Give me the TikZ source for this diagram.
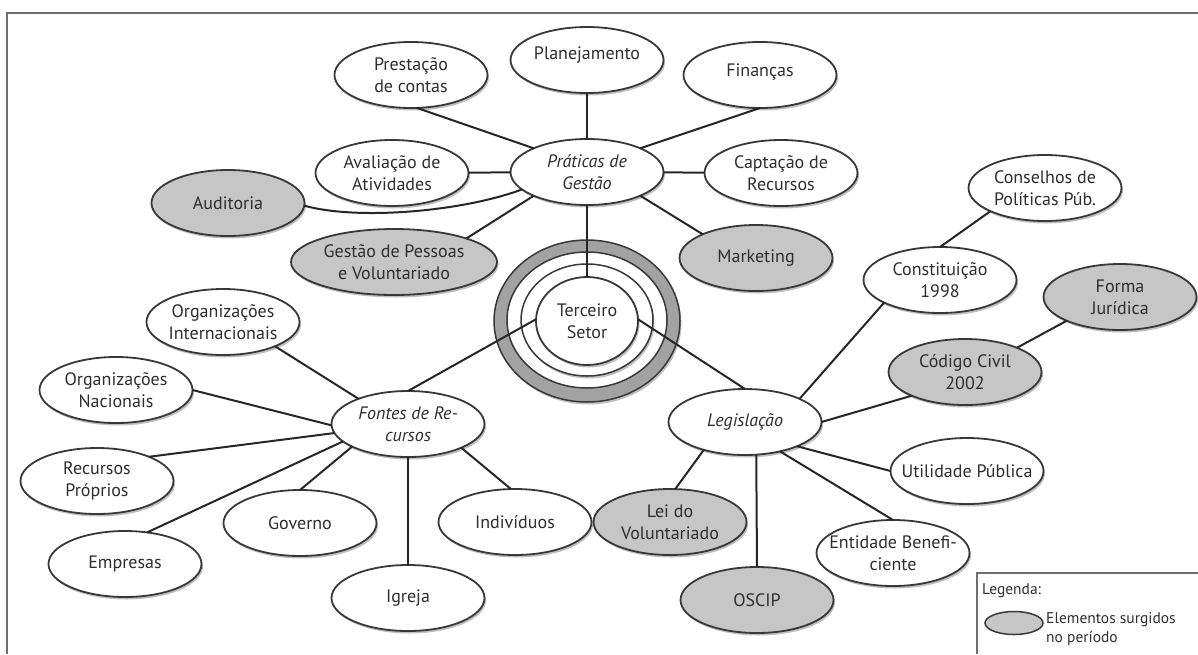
\documentclass[tikz,border=0pt]{standalone}
\usepackage{fontspec}
\setmainfont{PT Sans}
\usetikzlibrary{shapes.geometric,shadows}
\definecolor{edgecol}{HTML}{383838}
\definecolor{grayfill}{HTML}{C6C6C6}
\definecolor{ringgray}{HTML}{A2A2A2}
\definecolor{framecol}{HTML}{6E6E6E}
\definecolor{txtcol}{HTML}{2E2E2E}
\tikzset{
  softshadow/.style={drop shadow={shadow xshift=1.5pt, shadow yshift=-2.5pt, fill=black!45, opacity=0.55}},
  bub/.style={ellipse, draw=edgecol, line width=1.8pt, fill=white,
    minimum width=153pt, minimum height=66pt, inner sep=0pt, outer sep=0pt, softshadow},
  newbub/.style={bub, fill=grayfill},
  lbl/.style={align=center, font=\fontsize{18}{22}\selectfont, text=txtcol, inner sep=0pt},
  conn/.style={draw=black!85, line width=2pt},
  ringline/.style={draw=edgecol, line width=1.5pt},
}
\begin{document}
\begin{tikzpicture}[x=1pt,y=-1pt]
\useasboundingbox (0,0) rectangle (1198,654);
% frame
\draw[framecol, line width=2pt] (7,654) -- (7,13) -- (1198,13);

% concentric rings of Terceiro Setor
\draw[ringline, fill=ringgray, softshadow] (587,321) ellipse [x radius=93pt, y radius=81pt];
\draw[ringline, fill=white] (587,320) ellipse [x radius=80pt, y radius=68pt];
\draw[ringline, fill=white, softshadow] (587,320) ellipse [x radius=66pt, y radius=56pt];

\node[bub, minimum width=102pt, minimum height=88pt, label={[lbl]center:Terceiro\\Setor}] (ts) at (587,321) {};

% Práticas de Gestão cluster
\node[bub, label={[lbl]center:Prestação\\de contas}] (prest) at (411,75) {};
\node[bub, label={[lbl, yshift=5pt]center:Planejamento}] (plan) at (587,60) {};
\node[bub, label={[lbl, yshift=3pt]center:Finanças}] (fin) at (760,75) {};
\node[bub, label={[lbl]center:\textit{Práticas de}\\\textit{Gestão}}] (prat) at (587,172) {};
\node[bub, label={[lbl]center:Avaliação de\\Atividades}] (aval) at (392,173) {};
\node[bub, label={[lbl]center:Captação de\\Recursos}] (capt) at (781,173) {};
\node[newbub, label={[lbl]center:Auditoria}] (aud) at (228,203) {};
\node[newbub, minimum width=206pt, label={[lbl]center:Gestão de Pessoas\\e Voluntariado}] (gest) at (394,262) {};
\node[newbub, label={[lbl]center:Marketing}] (mkt) at (756,258) {};

% Legislação cluster
\node[bub, label={[lbl]center:Conselhos de\\Políticas Púb.}] (cons) at (1045,188) {};
\node[bub, label={[lbl]center:Constituição\\1998}] (const) at (940,280) {};
\node[newbub, label={[lbl]center:Forma\\Jurídica}] (forma) at (1120,297) {};
\node[newbub, label={[lbl]center:Código Civil\\2002}] (cod) at (965,372) {};
\node[bub, label={[lbl]center:\textit{Legislação}}] (leg) at (745,422) {};
\node[bub, label={[lbl]center:Utilidade Pública}] (util) at (967,471) {};
\node[newbub, label={[lbl]center:Lei do\\Voluntariado}] (lei) at (670,522) {};
\node[bub, label={[lbl]center:Entidade Benefi-\\ciente}] (ent) at (893,553) {};
\node[newbub, label={[lbl]center:OSCIP}] (oscip) at (757,600) {};

% Fontes de Recursos cluster
\node[bub, label={[lbl]center:Organizações\\Internacionais}] (orgi) at (223,322) {};
\node[bub, label={[lbl]center:Organizações\\Nacionais}] (orgn) at (116,390) {};
\node[bub, label={[lbl]center:\textit{Fontes de Re-}\\\textit{cursos}}] (font) at (408,424) {};
\node[bub, label={[lbl]center:Recursos\\Próprios}] (recp) at (97,481) {};
\node[bub, label={[lbl]center:Governo}] (gov) at (300,523) {};
\node[bub, label={[lbl]center:Indivíduos}] (ind) at (515,522) {};
\node[bub, label={[lbl]center:Empresas}] (emp) at (125,564) {};
\node[bub, label={[lbl]center:Igreja}] (igr) at (408,598) {};

% connectors: Práticas de Gestão
\draw[conn] (prest.-80) -- (prat.156);
\draw[conn] (plan.south) -- (prat.north);
\draw[conn] (fin.south) -- (prat.24);
\draw[conn] (aval) -- (prat);
\draw[conn] (capt) -- (prat);
\draw[conn] (aud.-2) .. controls +(54,15) and +(-59,22) .. (prat.195);
\draw[conn] (gest.18) -- (prat.204);
\draw[conn] (mkt.156) -- (prat.-24);
\draw[conn] (prat.south) -- (ts.north);

% connectors: Fontes de Recursos
\draw[conn] (font.north) -- (ts.178);
\draw[conn] (orgi.-25) -- (font.153);
\draw[conn] (orgn.0) -- (font.181);
\draw[conn] (recp.25) -- (font.187);
\draw[conn] (emp.55) -- (font.195);
\draw[conn] (gov.north) -- (font.202);
\draw[conn] (font.south) -- (igr.north);
\draw[conn] (ind.97) -- (font.-24);

% connectors: Legislação
\draw[conn] (ts.2) -- (leg.north);
\draw[conn] (const.202) -- (leg.23);
\draw[conn] (const.north) -- (cons.203);
\draw[conn] (cod.204) -- (leg.east);
\draw[conn] (cod.25) -- (forma.204);
\draw[conn] (util.west) -- (leg.-25);
\draw[conn] (ent.north) -- (leg.-40);
\draw[conn] (leg.-71) -- (oscip.north);
\draw[conn] (lei.81) -- (leg.214);

% legend
\draw[framecol, line width=1.3pt] (977,654) -- (977,573) -- (1198,573);
\node[anchor=west, font=\fontsize{15.5}{19}\selectfont, text=txtcol, inner sep=0pt] (legtitle) at (982,591) {Legenda:};
\node[ellipse, draw=edgecol, line width=1.5pt, fill=grayfill, minimum width=58pt, minimum height=23pt, inner sep=0pt] (legell) at (1014,623) {};
\node[anchor=west, align=left, font=\fontsize{15.5}{19}\selectfont, text=txtcol, inner sep=0pt] (legtext) at (1046,629) {Elementos surgidos\\no período};
\end{tikzpicture}
\end{document}
